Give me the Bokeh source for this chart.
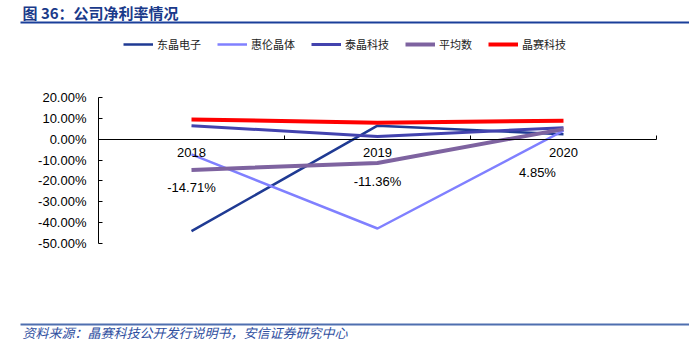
from bokeh.plotting import figure
from bokeh.models import (Range1d, FixedTicker, PrintfTickFormatter, Legend, LegendItem,
                          Label, BoxAnnotation, ColumnDataSource, LinearAxis)
from bokeh.core.properties import value
from bokeh.embed import file_html
from bokeh.resources import INLINE

# ---------------- data ----------------
years = ["2018", "2019", "2020"]
dongjing = [-44.1, 6.5, 2.4]        # 东晶电子
huilun = [-7.3, -42.8, 4.1]         # 惠伦晶体
taijing = [6.5, 1.3, 5.5]           # 泰晶科技
average = [-14.71, -11.36, 4.85]    # 平均数
jingsai = [9.5, 7.9, 8.9]           # 晶赛科技
y_ticks = [-50, -40, -30, -20, -10, 0, 10, 20]

series_names = ["东晶电子", "惠伦晶体", "泰晶科技", "平均数", "晶赛科技"]
series_values = [dongjing, huilun, taijing, average, jingsai]
series_colors = ["#1F3A93", "#8080FF", "#4343AE", "#7E63A0", "#FF0000"]
series_widths = [2.5, 2.5, 3, 4, 4]

# label offsets (screen px) for the average-value labels
label_dx = [0, 0, -26]
label_dy = [18, 19, 43]

CJK = "Noto Sans CJK SC"
LAT = "Liberation Sans"

# ---------------- layout (pixels in the 689x351 canvas) ----------------
W, H = 689, 351
PL, PR, PT, PB = 98, 656, 97, 243   # plot area edges
ncat = len(years)
ymin, ymax = y_ticks[0], y_ticks[-1]
ux = ncat / (PR - PL)               # data units per px (x)
uy = (ymax - ymin) / (PB - PT)      # data units per px (y)
x_range = Range1d(0 - PL * ux, ncat + (W - PR) * ux)
y_range = Range1d(ymin - (H - PB) * uy, ymax + PT * uy)

xs = [i + 0.5 for i in range(ncat)]

p = figure(width=W, height=H, output_backend="svg", toolbar_location=None,
           x_range=x_range, y_range=y_range,
           min_border=0, x_axis_location=None, y_axis_location=None)
p.outline_line_color = None
p.grid.visible = False
p.background_fill_color = "white"
p.border_fill_color = "white"

# y axis at x = 0
yax = LinearAxis(fixed_location=0, bounds=(ymin, ymax), ticker=FixedTicker(ticks=y_ticks),
                 formatter=PrintfTickFormatter(format="%.2f%%"),
                 major_tick_in=4, major_tick_out=0, minor_tick_line_color=None,
                 axis_line_color="black", major_tick_line_color="black",
                 major_label_text_font=LAT, major_label_text_font_size="13px",
                 major_label_text_color="black", major_label_standoff=12)
p.add_layout(yax, "left")

# x axis at y = 0: labels at category centres, small ticks at category boundaries
xax = LinearAxis(fixed_location=0, bounds=(0, ncat),
                 ticker=FixedTicker(ticks=xs, minor_ticks=list(range(1, ncat + 1))),
                 major_label_overrides={x: y for x, y in zip(xs, years)},
                 major_tick_in=0, major_tick_out=0, major_tick_line_color=None,
                 minor_tick_in=4, minor_tick_out=0, minor_tick_line_color="black",
                 axis_line_color="black",
                 major_label_text_font=LAT, major_label_text_font_size="13px",
                 major_label_text_color="black", major_label_standoff=9)
p.add_layout(xax, "below")

renderers = []
for name, vals, col, w in zip(series_names, series_values, series_colors, series_widths):
    r = p.line(xs, vals, line_color=col, line_width=w)
    renderers.append(r)

# average labels
src = ColumnDataSource(dict(x=xs, y=average, t=[f"{v:.2f}%" for v in average],
                            dx=label_dx, dy=label_dy))
p.text(x="x", y="y", text="t", x_offset="dx", y_offset="dy", source=src,
       text_align="center", text_baseline="middle", text_font=value(LAT),
       text_font_size="13px", text_color="black")

legend = Legend(items=[LegendItem(label=n, renderers=[r]) for n, r in zip(series_names, renderers)],
                orientation="horizontal", location=(123, H - 54), glyph_width=30, glyph_height=20,
                label_standoff=4, spacing=16, padding=0, margin=0,
                border_line_alpha=0, background_fill_alpha=0,
                label_text_font=CJK, label_text_font_size="11px", label_text_color="#222222")
p.add_layout(legend, "center")

# title & footer
p.add_layout(Label(x=22, y=H - 12, x_units="screen", y_units="screen", text="图 36：公司净利率情况",
                   text_font=CJK, text_font_size="15px", text_font_style="bold",
                   text_color="#1A3A8A", text_baseline="middle"))
p.add_layout(BoxAnnotation(left=20, right=W, top=H - 21, bottom=H - 23,
                           left_units="screen", right_units="screen",
                           top_units="screen", bottom_units="screen",
                           fill_color="#1A3F9A", fill_alpha=1, line_alpha=0))
p.add_layout(BoxAnnotation(left=20, right=W, top=H - 323, bottom=H - 325,
                           left_units="screen", right_units="screen",
                           top_units="screen", bottom_units="screen",
                           fill_color="#4F6FAF", fill_alpha=1, line_alpha=0))
p.add_layout(Label(x=22, y=H - 332, x_units="screen", y_units="screen",
                   text="资料来源：晶赛科技公开发行说明书，安信证券研究中心",
                   text_font=CJK, text_font_size="13px", text_font_style="italic",
                   text_color="#2F4F9F", text_baseline="middle"))

open("out.html", "w").write(file_html(p, INLINE))
